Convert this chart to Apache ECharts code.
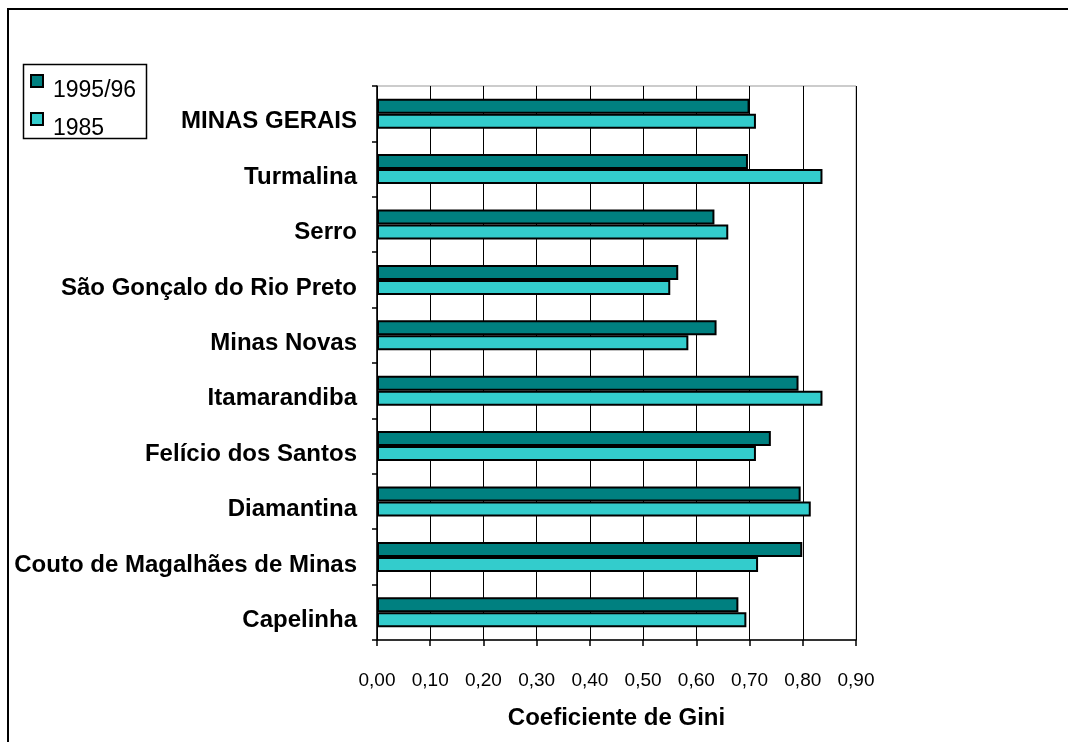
<!DOCTYPE html>
<html><head><meta charset="utf-8">
<script src="https://cdn.jsdelivr.net/npm/echarts@6/dist/echarts.min.js"></script>
<style>html,body{margin:0;padding:0;background:#fff}#c{width:1068px;height:742px}</style>
</head><body><div id="c"></div>
<script>
const categories = ['MINAS GERAIS','Turmalina','Serro','São Gonçalo do Rio Preto','Minas Novas','Itamarandiba','Felício dos Santos','Diamantina','Couto de Magalhães de Minas','Capelinha'];
const gini1995 = [0.70, 0.697, 0.634, 0.566, 0.638, 0.792, 0.740, 0.796, 0.799, 0.679];
const gini1985 = [0.712, 0.837, 0.660, 0.551, 0.585, 0.837, 0.712, 0.815, 0.716, 0.694];
const xTicks = [0,0.1,0.2,0.3,0.4,0.5,0.6,0.7,0.8,0.9];
const seriesNames = ['1995/96','1985'];

const chart = echarts.init(document.getElementById('c'));
const FONT = 'Liberation Sans, Arial, sans-serif';
// legend icon: 12x12 square at top of a taller box so the label sits lower, as in the original
const ICON = 'path://M0,0L12,0L12,12L0,12Z M0,31L0,31';
chart.setOption({
  animation:false,
  textStyle:{fontFamily:FONT},
  graphic:[
    {type:'rect',shape:{x:8,y:9,width:1080,height:760},style:{fill:'none',stroke:'#000',lineWidth:2},z:-1},
    {type:'rect',shape:{x:23.5,y:64.5,width:123,height:74},style:{fill:'none',stroke:'#000',lineWidth:1.5},z:-1}
  ],
  legend:{
    orient:'vertical',left:30,top:74,
    itemWidth:12,itemHeight:31,itemGap:5,padding:0,
    icon:ICON,
    textStyle:{fontSize:23,color:'#000',fontFamily:FONT,lineHeight:23,padding:[0,0,0,5]},
    data:seriesNames
  },
  grid:{left:377,right:212,top:86,bottom:102,show:true,borderColor:'#999',borderWidth:1},
  xAxis:{
    type:'value',min:0,max:0.9,interval:0.1,
    axisLine:{show:true,lineStyle:{color:'#000',width:1.5}},
    axisTick:{show:true,length:6,lineStyle:{color:'#000',width:1.5}},
    splitLine:{show:true,lineStyle:{color:'#000',width:1}},
    axisLabel:{margin:31,fontSize:19,color:'#000',fontFamily:FONT,
      formatter:v=>{const t=xTicks.find(x=>Math.abs(x-v)<1e-9);return (t!==undefined?t:v).toFixed(2).replace('.',',');}},
    name:'Coeficiente de Gini',nameLocation:'middle',nameGap:66,
    nameTextStyle:{fontSize:24,fontWeight:'bold',color:'#000',fontFamily:FONT}
  },
  yAxis:{
    type:'category',data:categories,inverse:true,
    axisLine:{show:true,lineStyle:{color:'#000',width:1.5}},
    axisTick:{show:true,length:5,lineStyle:{color:'#000',width:1.5}},
    axisLabel:{margin:20,color:'#000',fontFamily:FONT,
      formatter:v=>'{a|'+v+'}',
      rich:{a:{fontSize:24,fontWeight:'bold',color:'#000',fontFamily:FONT,lineHeight:24,padding:[16,0,0,0]}}}
  },
  series:[
    {name:seriesNames[0],type:'bar',data:gini1995,barWidth:15,barGap:'0%',
     itemStyle:{color:'#008080',borderColor:'#000',borderWidth:2}},
    {name:seriesNames[1],type:'bar',data:gini1985,barWidth:15,barGap:'0%',
     itemStyle:{color:'#33CCCC',borderColor:'#000',borderWidth:2}}
  ]
});
</script></body></html>
